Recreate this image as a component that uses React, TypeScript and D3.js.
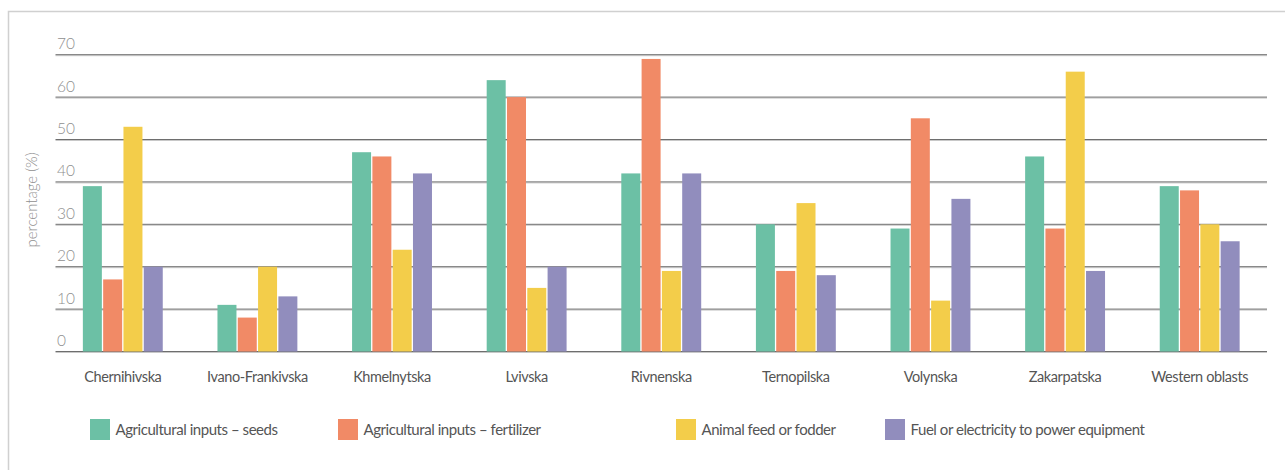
import React from "react";
import * as d3 from "d3";

const categories = ["Chernihivska", "Ivano-Frankivska", "Khmelnytska", "Lvivska", "Rivnenska", "Ternopilska", "Volynska", "Zakarpatska", "Western oblasts"];
const seriesNames = ["Agricultural inputs – seeds", "Agricultural inputs – fertilizer", "Animal feed or fodder", "Fuel or electricity to power equipment"];
const seeds = [39, 11, 47, 64, 42, 30, 29, 46, 39];
const fertilizer = [17, 8, 46, 60, 69, 19, 55, 29, 38];
const fodder = [53, 20, 24, 15, 19, 35, 12, 66, 30];
const fuel = [20, 13, 42, 20, 42, 18, 36, 19, 26];
const yTicks = [0, 10, 20, 30, 40, 50, 60, 70];
const colors = ["#6cc0a5", "#f18a66", "#f3cd4a", "#918dbd"];
const legendX = [90, 338, 676, 885];

const series = [seeds, fertilizer, fodder, fuel];

export default function App() {
  const W = 1285, H = 470;
  const x0 = d3.scaleBand<string>().domain(categories).range([55.5, 1267]).paddingInner(0).paddingOuter(0);
  const y = d3.scaleLinear().domain([0, 70]).range([351.5, 54.7]);
  const barW = 19;
  const step = 20.3;
  const groupW = step * 3 + barW;
  const font = "Lato, 'Open Sans', sans-serif";

  return (
    <svg width={W} height={H} style={{ position: "absolute", left: 0, top: 0, background: "#fff" }} fontFamily={font}>
      <rect x={8.5} y={11.5} width={1290} height={470} fill="none" stroke="#d0d0d0" strokeWidth={1.5} />
      {yTicks.map((t) => (
        <g key={t}>
          <line x1={55.5} x2={1267} y1={y(t) + 1} y2={y(t) + 1} stroke="#c8c8c8" strokeWidth={1} />
          <line x1={55.5} x2={1267} y1={y(t)} y2={y(t)} stroke="#6e6e6e" strokeWidth={1} />
          <text x={57} y={y(t) - 5.5} fontSize={15.5} fontWeight={300} fill="#8f8f8f">{t}</text>
        </g>
      ))}
      {categories.map((c, i) => {
        const cx = (x0(c) as number) + x0.bandwidth() / 2;
        const start = cx - groupW / 2;
        return (
          <g key={c}>
            {series.map((s, k) => (
              <rect key={k} x={start + k * step} y={y(s[i])} width={barW} height={y(0) - y(s[i])} fill={colors[k]} />
            ))}
            <text x={cx} y={381.5} textAnchor="middle" fontSize={14.5} letterSpacing={-0.4} fill="#555">{c}</text>
          </g>
        );
      })}
      <text transform={`translate(37,200) rotate(-90)`} textAnchor="middle" fontSize={15} fontWeight={300} fill="#8f8f8f">percentage (%)</text>
      {seriesNames.map((n, k) => (
        <g key={n}>
          <rect x={legendX[k]} y={419} width={20} height={21} fill={colors[k]} />
          <text x={legendX[k] + 25.5} y={434.5} fontSize={15} letterSpacing={-0.45} fill="#555">{n}</text>
        </g>
      ))}
    </svg>
  );
}
